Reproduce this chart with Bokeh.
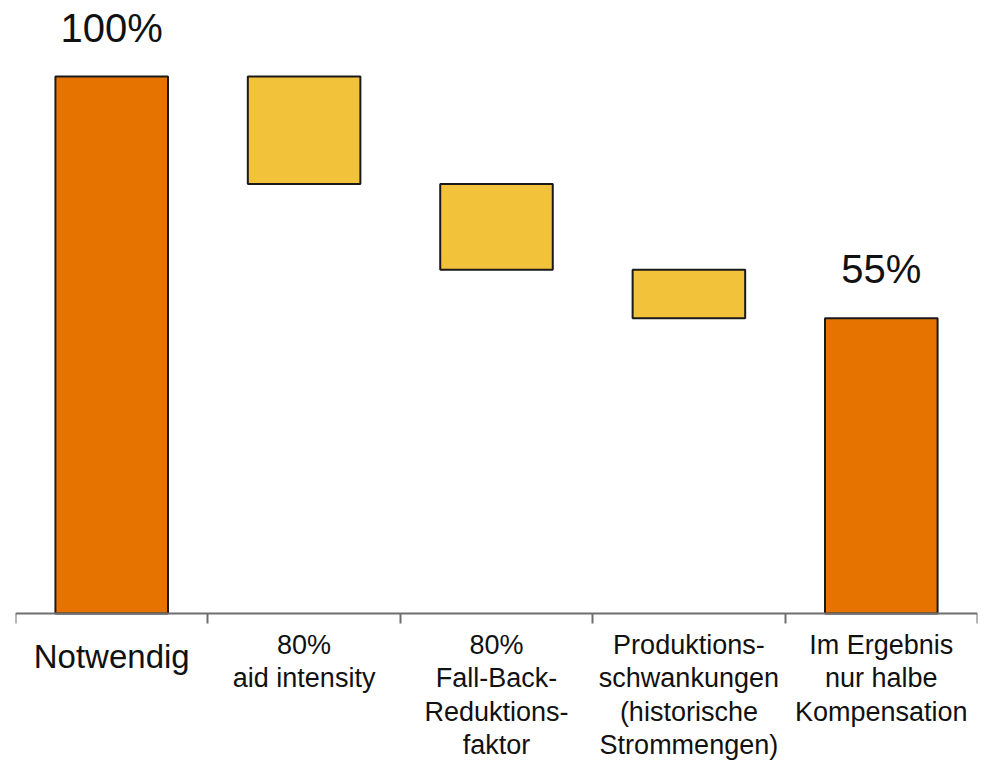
from bokeh.plotting import figure
from bokeh.models import Range1d, LinearAxis, FixedTicker, ColumnDataSource
from bokeh.core.properties import value
from bokeh.embed import file_html
from bokeh.resources import INLINE

# ---- data ----
categories = [
    "Notwendig",
    "80%\naid intensity",
    "80%\nFall-Back-\nReduktions-\nfaktor",
    "Produktions-\nschwankungen\n(historische\nStrommengen)",
    "Im Ergebnis\nnur halbe\nKompensation",
]
bar_bottom = [0, 80, 64, 55, 0]
bar_top = [100, 100, 80, 64, 55]
bar_kind = ["total", "step", "step", "step", "total"]
total_labels = ["100%", "55%"]
total_values = [100, 55]
total_index = [0, 4]

ORANGE = "#E67300"
YELLOW = "#F2C23B"
FONT = "Liberation Sans"

PX_PER_UNIT = 5.37   # vertical scale (pixels per percent)
AXIS_PX = 613        # axis line position from top

xs = [i + 0.5 for i in range(len(categories))]
colors = [ORANGE if k == "total" else YELLOW for k in bar_kind]
src = ColumnDataSource(dict(x=xs, bottom=bar_bottom, top=bar_top, color=colors))

p = figure(width=985, height=760, output_backend="svg", toolbar_location=None,
           x_range=Range1d(0, len(categories)),
           y_range=Range1d(-(760 - AXIS_PX) / PX_PER_UNIT, AXIS_PX / PX_PER_UNIT),
           min_border_left=15, min_border_right=8, min_border_top=0, min_border_bottom=0,
           frame_width=962, frame_height=760,
           x_axis_location=None, y_axis_location=None)
p.outline_line_color = None
p.grid.visible = False
p.background_fill_color = "white"
p.border_fill_color = "white"

p.vbar(x="x", bottom="bottom", top="top", width=0.585, fill_color="color",
       line_color="#1a1a1a", line_width=2, source=src)

# total labels
tsrc = ColumnDataSource(dict(x=[xs[i] for i in total_index], y=total_values, t=total_labels))
p.text(x="x", y="y", text="t", source=tsrc, text_align="center", text_baseline="alphabetic",
       y_offset=-49, text_font=value(FONT), text_font_size="40px", text_color="#111111")

# axis at y = 0 with boundary ticks (minor) and centered multi-line labels
ticker = FixedTicker(ticks=xs, minor_ticks=list(range(len(categories) + 1)))
ax = LinearAxis(ticker=ticker, fixed_location=0)
ax.axis_line_color = "#6e6e6e"
ax.axis_line_width = 2
ax.major_tick_line_color = None
ax.minor_tick_line_color = "#6e6e6e"
ax.minor_tick_line_width = 2
ax.minor_tick_out = 10
ax.minor_tick_in = 0
ax.major_tick_out = 0
ax.major_tick_in = 0
ax.major_label_standoff = 6
ax.major_label_text_font = FONT
ax.major_label_text_font_size = "27px"
ax.major_label_text_line_height = 1.12
ax.major_label_text_color = "#111111"
ax.major_label_overrides = {x: ("" if i == 0 else c) for i, (x, c) in enumerate(zip(xs, categories))}
p.add_layout(ax, "below")

# first category label, larger font (drawn inside the frame, below the axis line)
nsrc = ColumnDataSource(dict(x=[xs[0]], y=[0], t=[categories[0]]))
p.text(x="x", y="y", text="t", source=nsrc, text_align="center", text_baseline="alphabetic",
       y_offset=43, text_font=value(FONT), text_font_size="33px", text_color="#111111")

open("out.html", "w").write(file_html(p, INLINE))
